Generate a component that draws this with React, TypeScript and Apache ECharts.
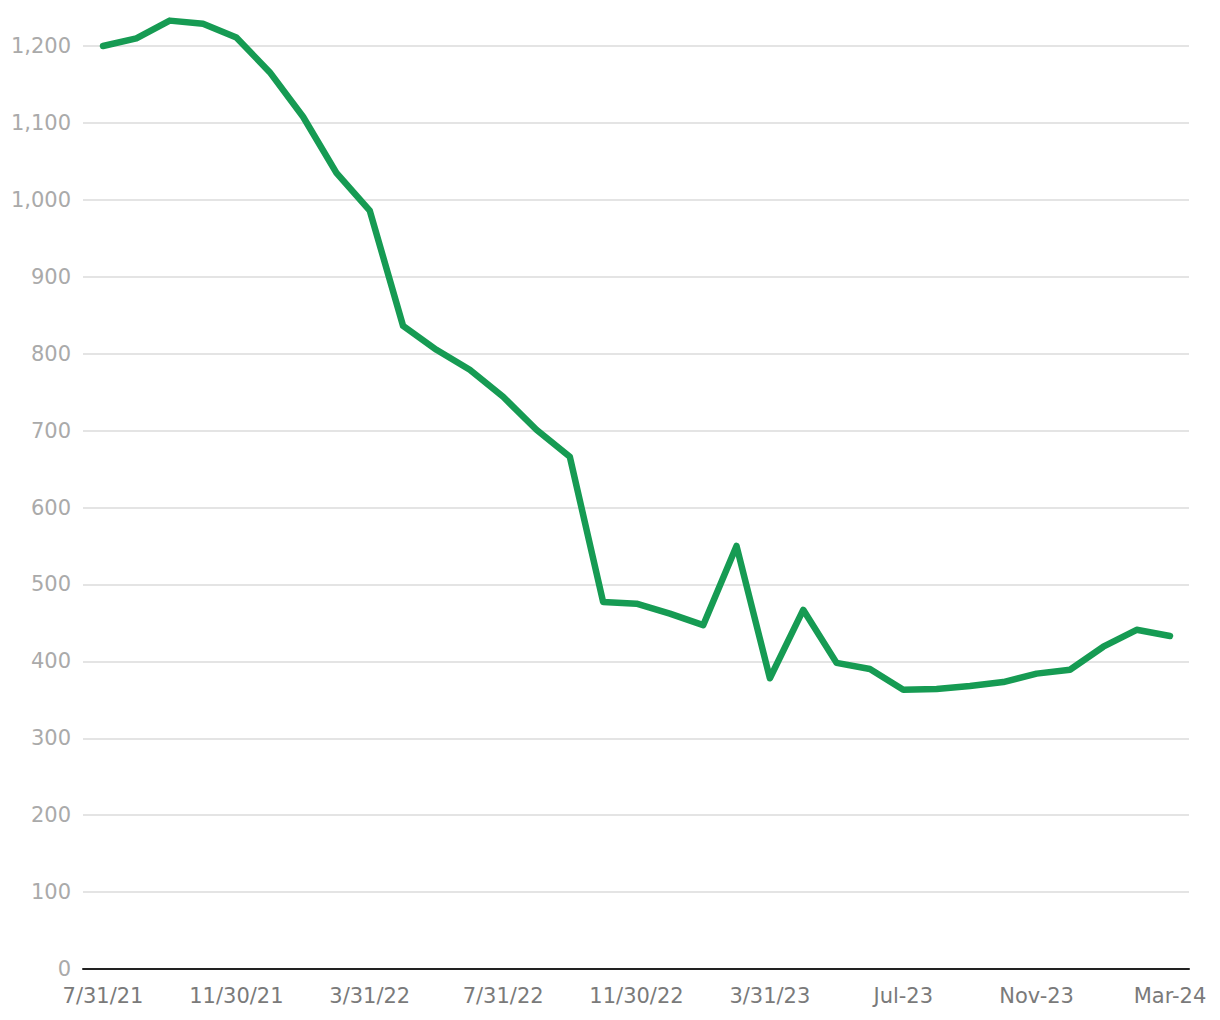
import React, { useEffect, useRef } from "react";
import * as echarts from "echarts";

const categories = [
  "7/31/21", "8/31/21", "9/30/21", "10/31/21", "11/30/21", "12/31/21",
  "1/31/22", "2/28/22", "3/31/22", "4/30/22", "5/31/22", "6/30/22",
  "7/31/22", "8/31/22", "9/30/22", "10/31/22", "11/30/22", "12/31/22",
  "1/31/23", "2/28/23", "3/31/23", "Apr-23", "May-23", "Jun-23",
  "Jul-23", "Aug-23", "Sep-23", "Oct-23", "Nov-23", "Dec-23",
  "Jan-24", "Feb-24", "Mar-24",
];

const values = [
  1200, 1210, 1233, 1229, 1211, 1166, 1108, 1035, 986, 836, 805, 779,
  744, 701, 666, 477, 475, 462, 447, 550, 378, 467, 398, 390,
  363, 364, 368, 373, 384, 389, 419, 441, 433,
];

const labelIndices = [0, 4, 8, 12, 16, 20, 24, 28, 32];

export default function App() {
  const ref = useRef<HTMLDivElement>(null);
  useEffect(() => {
    document.body.style.margin = "0";
    if (!ref.current) return;
    const chart = echarts.init(ref.current, undefined, { renderer: "svg" });
    const font = "'DejaVu Sans', sans-serif";
    chart.setOption({
      animation: false,
      grid: { left: 83, right: 31, top: 46, bottom: 51, containLabel: false },
      xAxis: {
        type: "value",
        min: -0.6,
        max: 32.57,
        axisLine: { show: true, onZero: false, lineStyle: { color: "#222", width: 2 } },
        axisTick: { show: false },
        splitLine: { show: false },
        axisLabel: {
          customValues: labelIndices,
          formatter: (v: number) => categories[Math.round(v)] ?? "",
          color: "#7a7a7a",
          fontSize: 21,
          fontFamily: font,
          margin: 16,
        },
      },
      yAxis: {
        type: "value",
        min: 0,
        max: 1200,
        interval: 100,
        axisLine: { show: false },
        axisTick: { show: false },
        axisLabel: {
          formatter: (v: number) => v.toLocaleString("en-US"),
          color: "#aaa",
          fontSize: 21,
          fontFamily: font,
          margin: 12,
        },
        splitLine: {
          show: true,
          lineStyle: { color: "#e4e4e4", width: 2 },
        },
      },
      series: [
        {
          type: "line",
          data: values.map((v, i) => [i, v]),
          showSymbol: false,
          clip: false,
          lineStyle: { color: "#169b53", width: 6.5, cap: "round", join: "round" },
          itemStyle: { color: "#169b53" },
        },
      ],
    });
    return () => chart.dispose();
  }, []);
  return <div ref={ref} style={{ width: 1220, height: 1020 }} />;
}
